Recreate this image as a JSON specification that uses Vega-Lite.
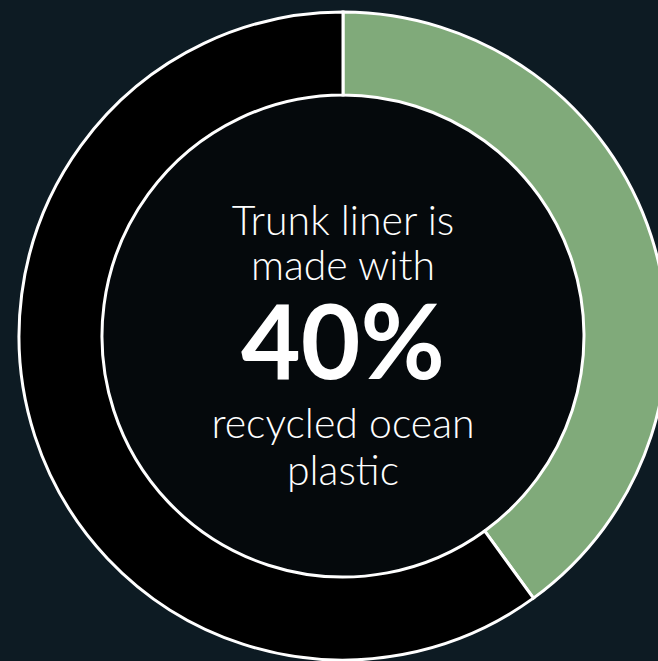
{
  "$schema": "https://vega.github.io/schema/vega-lite/v6.json",
  "width": 630,
  "height": 650,
  "padding": {"left": 28, "top": 11, "right": 0, "bottom": 0},
  "autosize": {"type": "none"},
  "background": "#0d1b23",
  "config": {"view": {"stroke": null}},
  "layer": [
    {
      "data": {"values": [{"part": "hole"}]},
      "mark": {"type": "circle", "size": 232324, "color": "#05090c", "opacity": 1, "strokeWidth": 0},
      "encoding": {}
    },
    {
      "data": {"values": [
        {"category": "Recycled ocean plastic", "value": 40, "order": 1},
        {"category": "Other", "value": 60, "order": 2}
      ]},
      "mark": {"type": "arc", "radius": 324, "radius2": 241, "stroke": "#ffffff", "strokeWidth": 3},
      "encoding": {
        "theta": {"field": "value", "type": "quantitative", "stack": true},
        "order": {"field": "order", "type": "quantitative"},
        "color": {
          "field": "category",
          "type": "nominal",
          "scale": {"domain": ["Recycled ocean plastic", "Other"], "range": ["#80aa7a", "#000000"]},
          "legend": null
        }
      }
    },
    {
      "data": {"values": [{"label": "Trunk liner is"}]},
      "mark": {"type": "text", "font": "Lato", "fontWeight": 300, "fontSize": 41, "color": "#ffffff", "align": "center", "baseline": "alphabetic", "dy": -101},
      "encoding": {"text": {"field": "label", "type": "nominal"}}
    },
    {
      "data": {"values": [{"label": "made with"}]},
      "mark": {"type": "text", "font": "Lato", "fontWeight": 300, "fontSize": 41, "color": "#ffffff", "align": "center", "baseline": "alphabetic", "dy": -56},
      "encoding": {"text": {"field": "label", "type": "nominal"}}
    },
    {
      "data": {"values": [{"label": "40%"}]},
      "mark": {"type": "text", "font": "Lato", "fontWeight": 700, "fontSize": 103, "color": "#ffffff", "align": "center", "baseline": "alphabetic", "dy": 43},
      "encoding": {"text": {"field": "label", "type": "nominal"}}
    },
    {
      "data": {"values": [{"label": "recycled ocean"}]},
      "mark": {"type": "text", "font": "Lato", "fontWeight": 300, "fontSize": 41, "color": "#ffffff", "align": "center", "baseline": "alphabetic", "dy": 102},
      "encoding": {"text": {"field": "label", "type": "nominal"}}
    },
    {
      "data": {"values": [{"label": "plastic"}]},
      "mark": {"type": "text", "font": "Lato", "fontWeight": 300, "fontSize": 41, "color": "#ffffff", "align": "center", "baseline": "alphabetic", "dy": 149},
      "encoding": {"text": {"field": "label", "type": "nominal"}}
    }
  ]
}
